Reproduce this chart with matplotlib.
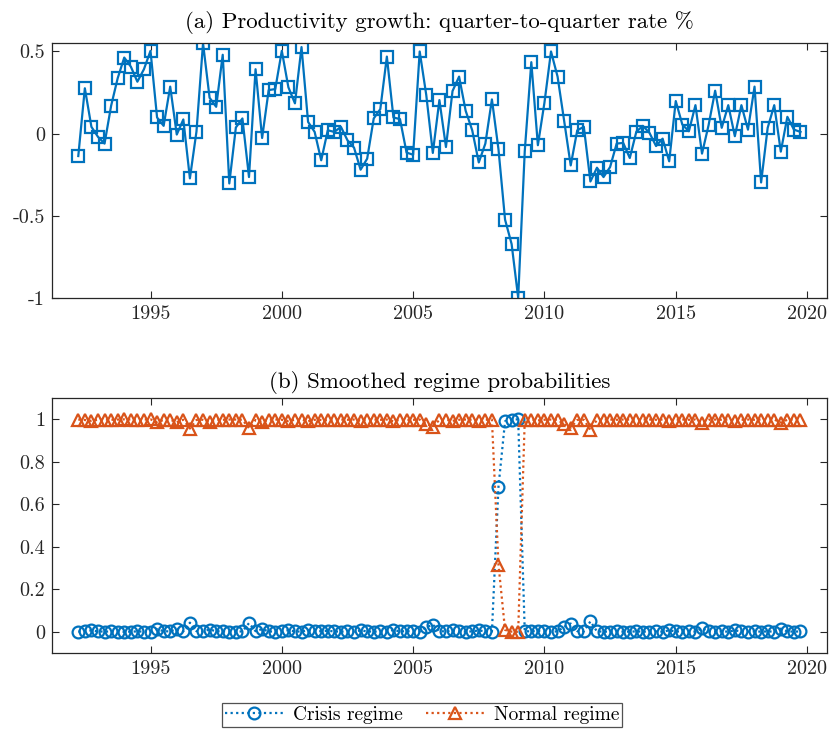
import matplotlib
matplotlib.use('Agg')
import matplotlib.pyplot as plt
import numpy as np
import pandas as pd

# quarterly sample 1992Q2 - 2019Q4
quarters = pd.period_range('1992Q2', '2019Q4', freq='Q')
t = np.array([q.year + (q.quarter - 1) / 4 for q in quarters])

# productivity growth, quarter-to-quarter rate (%)
growth = [
    -0.137, 0.276, 0.041, -0.020, -0.061, 0.169, 0.337, 0.463, 0.408, 0.316,
    0.392, 0.504, 0.098, 0.047, 0.286, -0.006, 0.086, -0.273, 0.012, 0.550,
    0.218, 0.163, 0.480, -0.304, 0.037, 0.092, -0.265, 0.392, -0.027, 0.265,
    0.271, 0.504, 0.282, 0.184, 0.527, 0.071, 0.010, -0.163, 0.020, 0.010,
    0.041, -0.041, -0.086, -0.220, -0.153, 0.092, 0.149, 0.469, 0.098, 0.088,
    -0.116, -0.129, 0.500, 0.235, -0.118, 0.204, -0.082, 0.259, 0.347, 0.139,
    0.020, -0.176, -0.061, 0.208, -0.096, -0.524, -0.673, -1.000, -0.108, 0.435,
    -0.071, 0.188, 0.500, 0.347, 0.078, -0.194, 0.020, 0.041, -0.292, -0.208,
    -0.265, -0.204, -0.061, -0.057, -0.149, 0.012, 0.047, 0.004, -0.076, -0.031,
    -0.169, 0.198, 0.055, 0.014, 0.173, -0.122, 0.051, 0.261, 0.035, 0.173,
    -0.016, 0.173, 0.024, 0.286, -0.298, 0.035, 0.173, -0.110, 0.102, 0.024,
    0.010,
]

# smoothed probability of the crisis regime
p_crisis = [
    0.002, 0.004, 0.008, 0.003, 0.002, 0.003, 0.002, 0.001, 0.002, 0.003,
    0.002, 0.001, 0.014, 0.004, 0.003, 0.014, 0.003, 0.044, 0.004, 0.003,
    0.012, 0.004, 0.003, 0.002, 0.002, 0.003, 0.042, 0.004, 0.014, 0.003,
    0.002, 0.003, 0.009, 0.003, 0.002, 0.010, 0.003, 0.004, 0.006, 0.003,
    0.002, 0.003, 0.002, 0.008, 0.003, 0.002, 0.003, 0.002, 0.010, 0.003,
    0.004, 0.003, 0.002, 0.022, 0.035, 0.004, 0.003, 0.008, 0.003, 0.002,
    0.003, 0.008, 0.003, 0.002, 0.683, 0.990, 0.998, 0.999, 0.004, 0.003,
    0.006, 0.003, 0.002, 0.003, 0.025, 0.040, 0.004, 0.003, 0.050, 0.003,
    0.002, 0.002, 0.003, 0.002, 0.002, 0.003, 0.002, 0.002, 0.003, 0.002,
    0.008, 0.003, 0.002, 0.003, 0.002, 0.018, 0.003, 0.002, 0.003, 0.002,
    0.008, 0.003, 0.002, 0.003, 0.002, 0.003, 0.002, 0.016, 0.003, 0.002,
    0.003,
]

# smoothed probability of the normal regime
p_normal = [
    0.998, 0.996, 0.992, 0.997, 0.998, 0.997, 0.998, 0.999, 0.998, 0.997,
    0.998, 0.999, 0.986, 0.996, 0.997, 0.986, 0.997, 0.956, 0.996, 0.997,
    0.988, 0.996, 0.997, 0.998, 0.998, 0.997, 0.958, 0.996, 0.986, 0.997,
    0.998, 0.997, 0.991, 0.997, 0.998, 0.990, 0.997, 0.996, 0.994, 0.997,
    0.998, 0.997, 0.998, 0.992, 0.997, 0.998, 0.997, 0.998, 0.990, 0.997,
    0.996, 0.997, 0.998, 0.978, 0.965, 0.996, 0.997, 0.992, 0.997, 0.998,
    0.997, 0.992, 0.997, 0.998, 0.317, 0.010, 0.002, 0.001, 0.996, 0.997,
    0.994, 0.997, 0.998, 0.997, 0.975, 0.960, 0.996, 0.997, 0.950, 0.997,
    0.998, 0.998, 0.997, 0.998, 0.998, 0.997, 0.998, 0.998, 0.997, 0.998,
    0.992, 0.997, 0.998, 0.997, 0.998, 0.982, 0.997, 0.998, 0.997, 0.998,
    0.992, 0.997, 0.998, 0.997, 0.998, 0.997, 0.998, 0.984, 0.997, 0.998,
    0.997,
]

year_ticks = [1995, 2000, 2005, 2010, 2015, 2020]

blue = '#0072BD'
orange = '#D95319'
axcol = '#262626'

plt.rcParams['font.family'] = 'serif'
plt.rcParams['font.serif'] = ['cmr10']
plt.rcParams['mathtext.fontset'] = 'cm'
plt.rcParams['axes.unicode_minus'] = False
plt.rcParams['axes.formatter.use_mathtext'] = True

fig = plt.figure(figsize=(8.31, 7.30), dpi=100)
ax1 = fig.add_axes([0.0626, 0.5922, 0.9323, 0.3485])
ax2 = fig.add_axes([0.0626, 0.105, 0.9323, 0.350])

# (a) growth rate
ax1.plot(t, growth, '-s', color=blue, lw=1.6, ms=8.5, mew=1.6, mfc='none')
ax1.set_ylim(-1.0, 0.55)
ax1.set_yticks([-1, -0.5, 0, 0.5])
ax1.set_yticklabels(['-1', '-0.5', '0', '0.5'])
ax1.set_title('(a) Productivity growth: quarter-to-quarter rate %', fontsize=16.5, pad=11)

# (b) regime probabilities
ax2.plot(t, p_crisis, linestyle=(0, (1, 1.5)), marker='o', color=blue, lw=1.6,
         ms=8.5, mew=1.6, mfc='none', label='Crisis regime')
ax2.plot(t, p_normal, linestyle=(0, (1, 1.5)), marker='^', color=orange, lw=1.6,
         ms=9, mew=1.6, mfc='none', label='Normal regime')
ax2.set_ylim(-0.1, 1.1)
ax2.set_yticks([0, 0.2, 0.4, 0.6, 0.8, 1])
ax2.set_yticklabels(['0', '0.2', '0.4', '0.6', '0.8', '1'])
ax2.set_title('(b) Smoothed regime probabilities', fontsize=16.5, pad=7)

for ax in (ax1, ax2):
    ax.set_xlim(1991.25, 2020.75)
    ax.set_xticks(year_ticks)
    ax.set_xticklabels([str(y) for y in year_ticks])
    ax.tick_params(direction='in', top=True, right=True, length=5, width=0.8,
                   labelsize=14.5, colors=axcol, pad=5)
    for s in ax.spines.values():
        s.set_color(axcol)
        s.set_linewidth(0.9)

leg = fig.legend(*ax2.get_legend_handles_labels(), loc='upper center', ncol=2,
                 bbox_to_anchor=(422 / 831, 1 - 703 / 730), borderaxespad=0,
                 fontsize=14, frameon=True, fancybox=False, edgecolor=axcol,
                 handlelength=3.0, borderpad=0.15, columnspacing=1.2,
                 handletextpad=0.5)
leg.get_frame().set_linewidth(0.9)

fig.savefig('out.png', dpi=100)
